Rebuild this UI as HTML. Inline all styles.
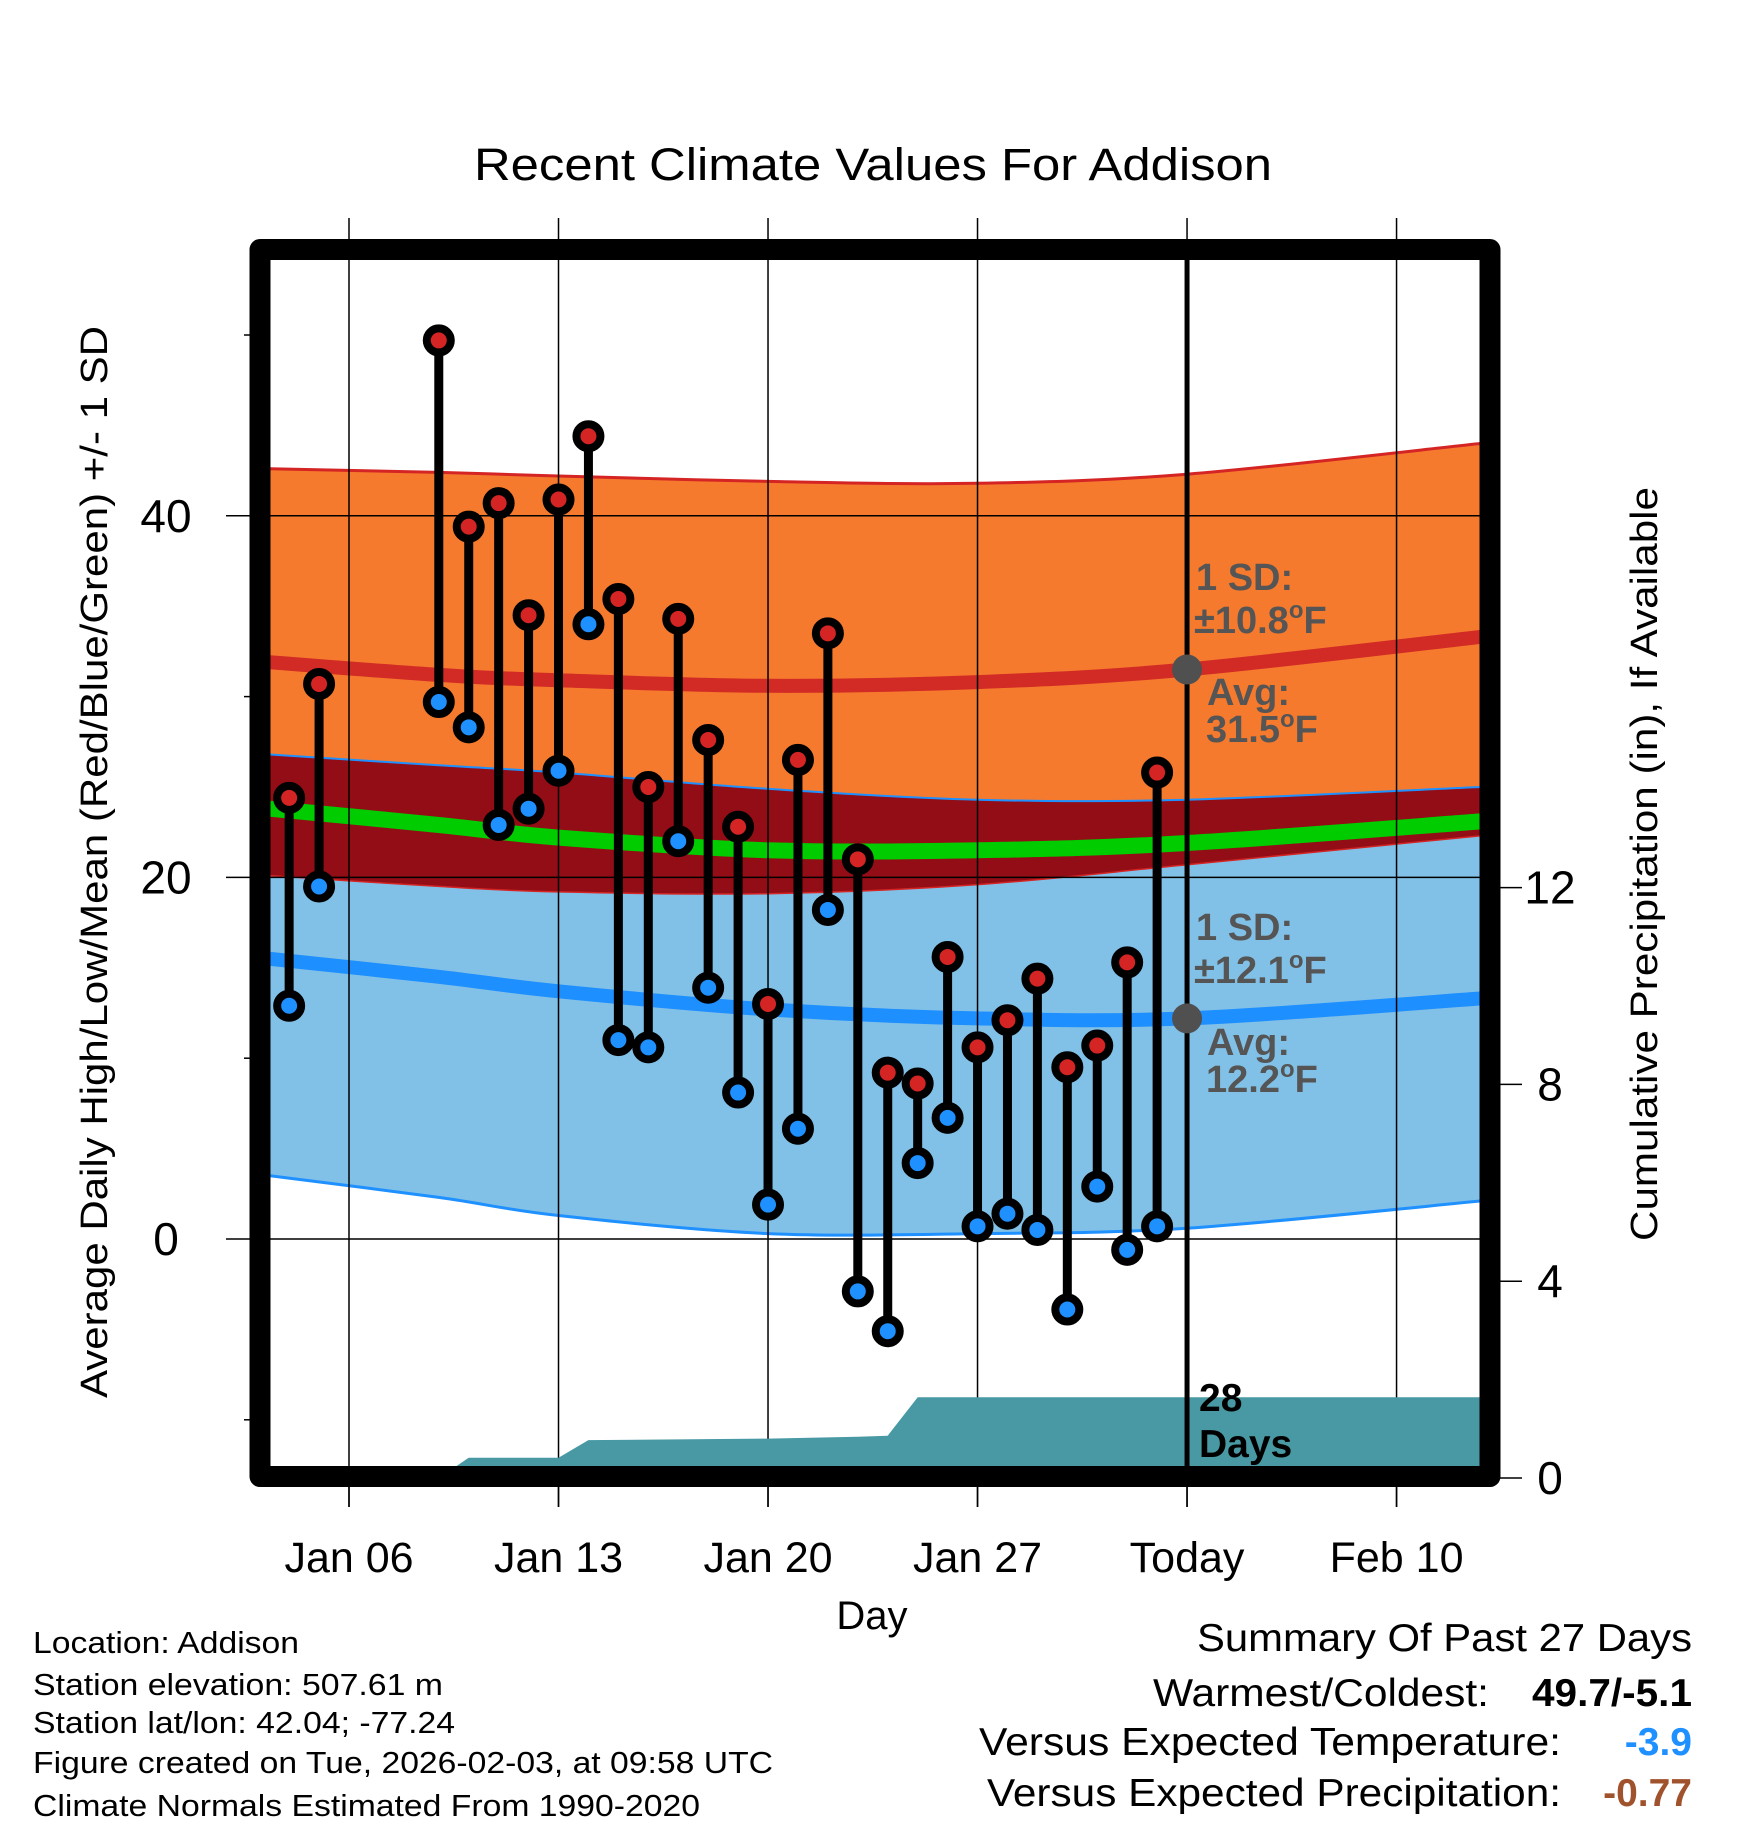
<!DOCTYPE html>
<html><head><meta charset="utf-8"><title>Recent Climate Values For Addison</title>
<style>
html,body{margin:0;padding:0;background:#fff;}
svg{display:block;font-family:"Liberation Sans",Arial,sans-serif;}
</style></head>
<body>
<svg id="chart" xmlns="http://www.w3.org/2000/svg" width="1748" height="1828" viewBox="0 0 1748 1828">
<defs><clipPath id="plotclip"><rect x="270" y="260" width="1210" height="1206"/></clipPath></defs>
<g id="bands" clip-path="url(#plotclip)"></g>
<g id="grid"></g>
<g id="precip" clip-path="url(#plotclip)"></g>
<g id="marks"></g>
<g id="annot"></g>
<rect x="260" y="249.5" width="1230" height="1227" fill="none" stroke="#000" stroke-width="21" stroke-linejoin="round"/>
<g id="axes"></g>

<text x="873" y="180" font-size="45" text-anchor="middle" textLength="798" lengthAdjust="spacingAndGlyphs">Recent Climate Values For Addison</text>
<text transform="translate(107,862) rotate(-90)" font-size="38" text-anchor="middle" textLength="1072" lengthAdjust="spacingAndGlyphs">Average Daily High/Low/Mean (Red/Blue/Green) +/- 1 SD</text>
<text transform="translate(1657,864) rotate(-90)" font-size="38" text-anchor="middle" textLength="754" lengthAdjust="spacingAndGlyphs">Cumulative Precipitation (in), If Available</text>
<text x="872" y="1629" font-size="40" text-anchor="middle">Day</text>

<g font-size="31">
<text x="33" y="1653" textLength="266" lengthAdjust="spacingAndGlyphs">Location: Addison</text>
<text x="33" y="1695" textLength="410" lengthAdjust="spacingAndGlyphs">Station elevation: 507.61 m</text>
<text x="33" y="1733" textLength="422" lengthAdjust="spacingAndGlyphs">Station lat/lon: 42.04; -77.24</text>
<text x="33" y="1773" textLength="740" lengthAdjust="spacingAndGlyphs">Figure created on Tue, 2026-02-03, at 09:58 UTC</text>
<text x="33" y="1816" textLength="667" lengthAdjust="spacingAndGlyphs">Climate Normals Estimated From 1990-2020</text>
</g>
<g font-size="39" text-anchor="end">
<text x="1692" y="1651" textLength="495" lengthAdjust="spacingAndGlyphs">Summary Of Past 27 Days</text>
<text x="1489" y="1706" textLength="336" lengthAdjust="spacingAndGlyphs">Warmest/Coldest:</text>
<text x="1692" y="1706" font-weight="bold" textLength="160" lengthAdjust="spacingAndGlyphs">49.7/-5.1</text>
<text x="1561" y="1755" textLength="582" lengthAdjust="spacingAndGlyphs">Versus Expected Temperature:</text>
<text x="1692" y="1755" font-weight="bold" fill="#1e90ff">-3.9</text>
<text x="1561" y="1806" textLength="574" lengthAdjust="spacingAndGlyphs">Versus Expected Precipitation:</text>
<text x="1692" y="1806" font-weight="bold" fill="#a0522d">-0.77</text>
</g>
<g font-size="38" font-weight="bold" fill="#555">
<text x="1196" y="590">1 SD:</text>
<text x="1194" y="633">±10.8<tspan font-size="24" dy="-15">o</tspan><tspan dy="15">F</tspan></text>
<text x="1207" y="705">Avg:</text>
<text x="1206" y="742">31.5<tspan font-size="24" dy="-15">o</tspan><tspan dy="15">F</tspan></text>
</g>
<g font-size="38" font-weight="bold" fill="#555">
<text x="1196" y="940">1 SD:</text>
<text x="1194" y="983">±12.1<tspan font-size="24" dy="-15">o</tspan><tspan dy="15">F</tspan></text>
<text x="1207" y="1055">Avg:</text>
<text x="1206" y="1092">12.2<tspan font-size="24" dy="-15">o</tspan><tspan dy="15">F</tspan></text>
</g>
<g font-size="39" font-weight="bold" fill="#000">
<text x="1199" y="1411">28</text>
<text x="1199" y="1457">Days</text>
</g>
</svg>
<script>
// ---- data ----
var obsDays = [4,5,9,10,11,12,13,14,15,16,17,18,19,20,21,22,23,24,25,26,27,28,29,30,31,32,33];
var highs = [24.4,30.7,49.7,39.4,40.7,34.5,40.9,44.4,35.4,25.0,34.3,27.6,22.8,13.0,26.5,33.5,21.0,9.2,8.6,15.6,10.6,12.1,14.4,9.5,10.7,15.3,25.8];
var lows = [12.9,19.5,29.7,28.3,22.9,23.8,25.9,34.0,11.0,10.6,22.0,13.9,8.1,1.9,6.1,18.2,-2.9,-5.1,4.2,6.7,0.7,1.4,0.5,-3.9,2.9,-0.6,0.7];
var normDays = [3.36,9,13,20,27,34,43.8];
var highUpper = [42.6,42.4,42.2,41.9,41.8,42.3,44.0];
var highMean = [31.9,31.2,30.9,30.6,30.8,31.5,33.3];
var highLower = [20.1,19.5,19.2,19.1,19.6,20.7,22.3];
var lowUpper = [26.8,26.2,25.8,24.9,24.3,24.3,25.0];
var lowMean = [15.5,14.5,13.7,12.7,12.2,12.2,13.3];
var lowLower = [3.5,2.3,1.3,0.3,0.3,0.6,2.1];
var meanTemp = [23.8,22.9,22.2,21.5,21.5,21.9,23.1];
var precipDays = [3.36,9,10,13,14,20,23,24,25,34,43.8];
var precipCum = [0,0,0.41,0.41,0.77,0.80,0.84,0.86,1.64,1.64,1.64];
var dateTickDays = [6,13,20,27,34,41];
var dateTickLabels = ["Jan 06","Jan 13","Jan 20","Jan 27","Today","Feb 10"];
var tempTicks = [0,20,40];
var tempMinorTicks = [-10,10,30,50];
var precipTicks = [0,4,8,12];

// ---- axes ----
function xOf(d){ return 349 + (d-6)*29.93; }
function yT(t){ return 1239 - t*18.08; }
function yP(p){ return 1478 - p*49.2; }
var NS="http://www.w3.org/2000/svg";
function mk(tag, attrs, parent){ var el=document.createElementNS(NS,tag); for(var k in attrs){ el.setAttribute(k,String(attrs[k])); } parent.appendChild(el); return el; }
function ptsOf(vals){ return normDays.map(function(d,i){ return [xOf(d), yT(vals[i])]; }); }
function smoothPath(pl, isMove){
  var n=pl.length;
  var s=(isMove?"M":"L")+pl[0][0].toFixed(1)+","+pl[0][1].toFixed(1);
  for(var i=0;i<n-1;i++){
    var a=pl[Math.max(i-1,0)], b=pl[i], c=pl[i+1], d=pl[Math.min(i+2,n-1)];
    var c1x=b[0]+(c[0]-a[0])/6, c1y=b[1]+(c[1]-a[1])/6;
    var c2x=c[0]-(d[0]-b[0])/6, c2y=c[1]-(d[1]-b[1])/6;
    s+=" C"+c1x.toFixed(1)+","+c1y.toFixed(1)+" "+c2x.toFixed(1)+","+c2y.toFixed(1)+" "+c[0].toFixed(1)+","+c[1].toFixed(1);
  }
  return s;
}
function bandPath(up, lo){ var r=ptsOf(lo); r.reverse(); return smoothPath(ptsOf(up),true)+" "+smoothPath(r,false)+" Z"; }
function linePath(v){ return smoothPath(ptsOf(v),true); }

var bands=document.getElementById('bands');
var e;
e=mk('path',{d:bandPath(highUpper,highLower),fill:'#f57a2e'},bands);


e=mk('path',{d:bandPath(lowUpper,lowLower),fill:'#82c1e7'},bands);


e=mk('path',{d:bandPath(lowUpper,highLower),fill:'#920d15'},bands);


e=mk('path',{d:linePath(highUpper),fill:'none',stroke:'#d42424','stroke-width':3},bands);


e=mk('path',{d:linePath(highLower),fill:'none',stroke:'#d42424','stroke-width':1.5},bands);


e=mk('path',{d:linePath(lowUpper),fill:'none',stroke:'#1e90ff','stroke-width':2},bands);


e=mk('path',{d:linePath(lowLower),fill:'none',stroke:'#1e90ff','stroke-width':3},bands);


e=mk('path',{d:linePath(highMean),fill:'none',stroke:'#d22a25','stroke-width':14},bands);


e=mk('path',{d:linePath(lowMean),fill:'none',stroke:'#1e8fff','stroke-width':14},bands);


e=mk('path',{d:linePath(meanTemp),fill:'none',stroke:'#00cc00','stroke-width':16},bands);



// grid
var grid=document.getElementById('grid');
dateTickDays.forEach(function(d){
  var g=mk('line',{x1:xOf(d),x2:xOf(d),y1:218,y2:1507,stroke:'#000','stroke-width':1.5},grid);
  
  
});
tempTicks.forEach(function(v){
  var g=mk('line',{x1:226,x2:1480,y1:yT(v),y2:yT(v),stroke:'#000','stroke-width':1.5},grid);
  
  
});

// precip
var pr=document.getElementById('precip');
var pp=precipDays.map(function(d,j){ return xOf(d).toFixed(1)+","+yP(precipCum[j]).toFixed(1); });
var pd="M"+xOf(precipDays[0]).toFixed(1)+",1480 L"+pp.join(" L")+" L"+xOf(precipDays[precipDays.length-1]).toFixed(1)+",1480 Z";
e=mk('path',{d:pd,fill:'#4899a3'},pr);



// today line
e=mk('line',{x1:xOf(34),x2:xOf(34),y1:260,y2:1466,stroke:'#000','stroke-width':5},pr);



// marks
var marks=document.getElementById('marks');
obsDays.forEach(function(d,i){
  var x=xOf(d), yh=yT(highs[i]), yl=yT(lows[i]);
  var s=mk('line',{x1:x,x2:x,y1:yh,y2:yl,stroke:'#000','stroke-width':9},marks);
  
  
  var c=mk('circle',{cx:x,cy:yh,r:12,fill:'#d42424',stroke:'#000','stroke-width':8},marks);
  
  
  var c2=mk('circle',{cx:x,cy:yl,r:12,fill:'#1e90ff',stroke:'#000','stroke-width':8},marks);
  
  
});

// annotations
var an=document.getElementById('annot');
e=mk('circle',{cx:xOf(34),cy:yT(highMean[5]),r:15,fill:'#505050'},an);


e=mk('circle',{cx:xOf(34),cy:yT(lowMean[5]),r:15,fill:'#505050'},an);



// axis ticks and labels
var axes=document.getElementById('axes');
var t;
dateTickDays.forEach(function(d,i){
  var tk=mk('line',{x1:xOf(d),x2:xOf(d),y1:1487,y2:1507,stroke:'#000','stroke-width':1.5},axes);
  
  
  t=mk('text',{x:xOf(d),y:1572,'font-size':43,'text-anchor':'middle'},axes);
  t.textContent=dateTickLabels[i];
  
  
});
tempTicks.forEach(function(v){
  t=mk('text',{x:166,y:yT(v)+16,'font-size':46,'text-anchor':'middle'},axes);
  t.textContent=String(v);
  
  
});
tempMinorTicks.forEach(function(v){
  var tk=mk('line',{x1:244,x2:252,y1:yT(v),y2:yT(v),stroke:'#000','stroke-width':1.5},axes);
  
  
});
precipTicks.forEach(function(v){
  var tk=mk('line',{x1:1498,x2:1522,y1:yP(v),y2:yP(v),stroke:'#000','stroke-width':1.5},axes);
  
  
  t=mk('text',{x:1550,y:yP(v)+16,'font-size':46,'text-anchor':'middle'},axes);
  t.textContent=String(v);
  
  
});
</script>
</body></html>
